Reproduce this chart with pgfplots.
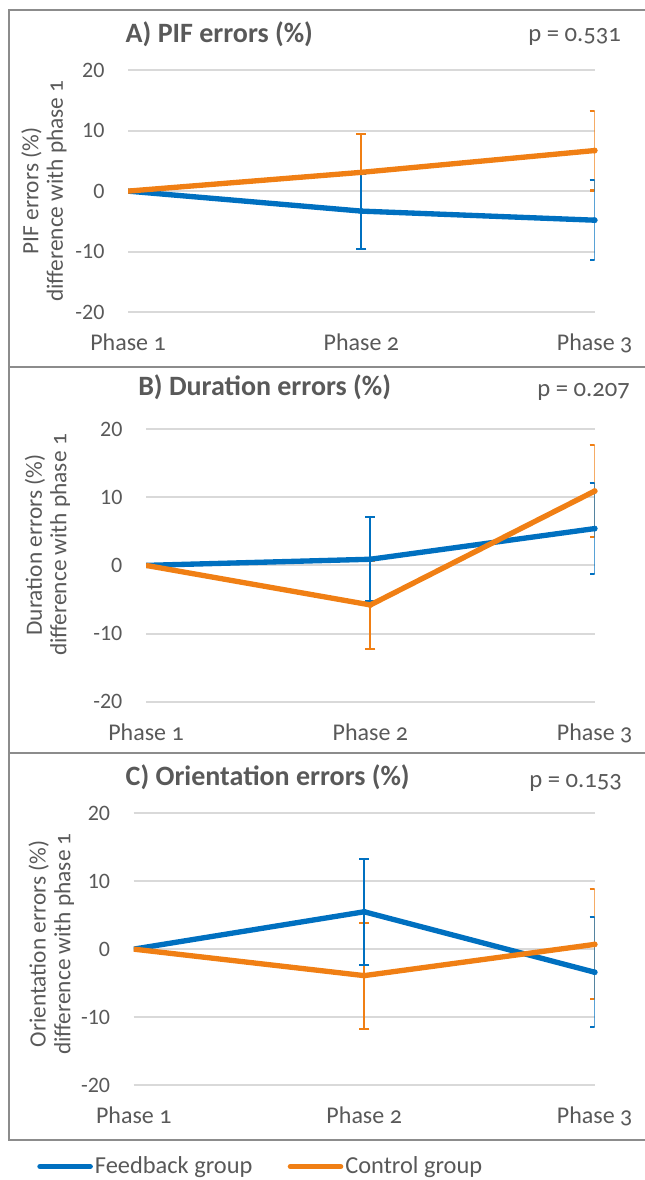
\documentclass[border=0pt]{standalone}
\usepackage{pgfplots}
\pgfplotsset{compat=1.18}
\usepackage{pgfplotstable}
\usepackage{fontspec}
\setmainfont{Carlito}
\newfontfamily\osf[Numbers=OldStyle]{Carlito}
\definecolor{fb}{HTML}{0070C0}
\definecolor{ct}{HTML}{F07F14}
\definecolor{gridc}{HTML}{D9D9D9}
\definecolor{txt}{HTML}{595959}
\definecolor{boxc}{HTML}{8C8C8C}

\pgfplotstableread{
x fb fbe ct cte
0 0 0 0 0
1 -3.3 6.2 3.1 6.3
2 -4.8 6.6 6.7 6.6
}\dataA
\pgfplotstableread{
x fb fbe ct cte
0 0 0 0 0
1 0.9 6.2 -5.8 6.5
2 5.4 6.7 10.9 6.7
}\dataB
\pgfplotstableread{
x fb fbe ct cte
0 0 0 0 0
1 5.5 7.8 -3.9 7.8
2 -3.4 8.1 0.7 8.1
}\dataC

\pgfplotsset{
 panel/.style={
  scale only axis, xmin=0, xmax=2, ymin=-20, ymax=20,
  axis line style={draw=none}, major tick length=0pt,
  xtick={0,1,2}, xticklabels={Phase {\osf 1},Phase {\osf 2},Phase {\osf 3}},
  ytick={-20,-10,0,10,20}, yticklabels={-20,-10,0,10,20},
  ymajorgrids, major grid style={gridc, line width=1.5pt},
  tick label style={text=txt},
  yticklabel style={font=\fontsize{16.5}{18}\selectfont, inner sep=0pt, anchor=east, xshift=-17.5pt},
  xticklabel style={font=\fontsize{18}{20}\selectfont, inner sep=0pt, anchor=base, yshift=-28.8pt},
  ylabel style={font=\fontsize{17.5}{18.5}\selectfont, text=txt, align=center, anchor=center},
 },
 eb/.style={only marks, mark=none, forget plot, restrict x to domain=1:2,
   error bars/.cd, y dir=both, y explicit,
   error bar style={line width=1.6pt},
   error mark options={rotate=90, mark size=3.8pt, line width=1.6pt},
   /pgfplots/.cd},
 ln/.style={line width=4pt, mark=none, line join=round},
}

\begin{document}
\begin{tikzpicture}
\useasboundingbox (0,0) rectangle (483.75pt,885pt);
\draw[boxc, line width=1.5pt] (6.75pt,609.75pt) rectangle (490pt,877.5pt);
\draw[boxc, line width=1.5pt] (6.75pt,320.25pt) rectangle (490pt,609.75pt);
\draw[boxc, line width=1.5pt] (6.75pt,30pt) rectangle (490pt,320.25pt);

% Panel A
\begin{axis}[panel, at={(96pt,650.8pt)}, anchor=south west, width=350pt, height=181.7pt,
  ylabel={PIF errors (\%)\\difference with phase {\osf 1}},
  ylabel style={at={(axis description cs:-0.180,0.5)}}]
\addplot[ct, eb] table[x=x, y=ct, y error=cte] {\dataA};
\addplot[fb, eb] table[x=x, y=fb, y error=fbe] {\dataA};
\addplot[fb, ln] table[x=x, y=fb] {\dataA};
\addplot[ct, ln] table[x=x, y=ct] {\dataA};
\end{axis}

% Panel B
\begin{axis}[panel, at={(109.5pt,358.7pt)}, anchor=south west, width=336.5pt, height=204.5pt,
  ylabel={Duration errors (\%)\\difference with phase {\osf 1}},
  ylabel style={at={(axis description cs:-0.2196,0.575)}}]
\addplot[ct, eb] table[x=x, y=ct, y error=cte] {\dataB};
\addplot[fb, eb] table[x=x, y=fb, y error=fbe] {\dataB};
\addplot[fb, ln] table[x=x, y=fb] {\dataB};
\addplot[ct, ln] table[x=x, y=ct] {\dataB};
\end{axis}

% Panel C
\begin{axis}[panel, at={(100.3pt,71.25pt)}, anchor=south west, width=345.7pt, height=203.8pt,
  ylabel={Orientation errors (\%)\\difference with phase {\osf 1}},
  ylabel style={at={(axis description cs:-0.1789,0.519)}},
  legend image code/.code={\draw[line width=4pt, line cap=round] (2pt,0pt) -- (39.7pt,0pt);},
  legend style={draw=none, fill=none, at={(axis description cs:-0.2098,-0.300)}, anchor=west,
    legend columns=2, font=\fontsize{18.3}{19}\selectfont, text=txt, inner sep=0pt,
    nodes={inner sep=1.5pt},
    /tikz/every even column/.append style={column sep=25pt}}]
\addplot[ct, eb] table[x=x, y=ct, y error=cte] {\dataC};
\addplot[fb, eb] table[x=x, y=fb, y error=fbe] {\dataC};
\addplot[fb, ln] table[x=x, y=fb] {\dataC};
\addlegendentry{Feedback group}
\addplot[ct, ln] table[x=x, y=ct] {\dataC};
\addlegendentry{Control group}
\end{axis}

\begin{scope}[every node/.style={inner sep=0pt, text=txt}]
\node[anchor=base west, font=\fontsize{21}{23}\selectfont\bfseries] at (94.1pt,853pt) {A) PIF errors (\%)};
\node[anchor=base west, font=\fontsize{18.5}{20}\selectfont\osf] at (396pt,853.5pt) {p = 0.531};
\node[anchor=base west, font=\fontsize{21}{23}\selectfont\bfseries] at (103.5pt,588pt) {B) Duration errors (\%)};
\node[anchor=base west, font=\fontsize{18.5}{20}\selectfont\osf] at (402.75pt,587.5pt) {p = 0.207};
\node[anchor=base west, font=\fontsize{21}{23}\selectfont\bfseries] at (94.1pt,295.7pt) {C) Orientation errors (\%)};
\node[anchor=base west, font=\fontsize{18.5}{20}\selectfont\osf] at (396.75pt,294pt) {p = 0.153};
\end{scope}
\end{tikzpicture}
\end{document}
